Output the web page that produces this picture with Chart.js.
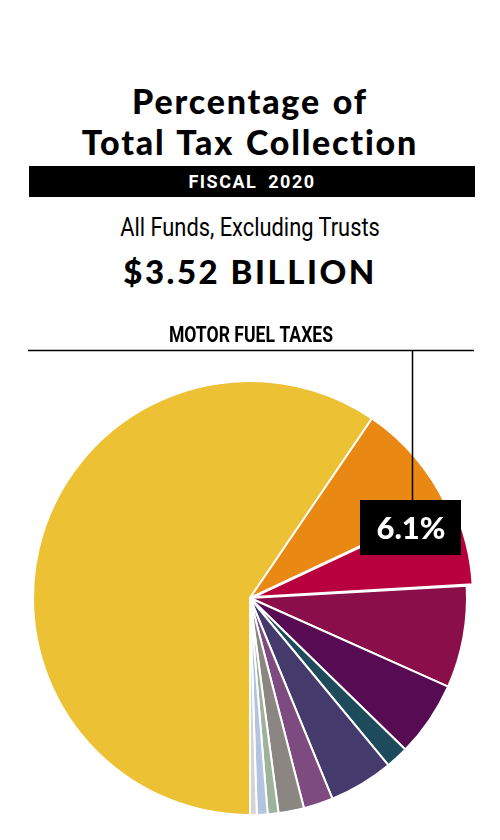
<!DOCTYPE html>
<html>
<head>
<meta charset="utf-8">
<script src="https://cdn.jsdelivr.net/npm/chart.js@4"></script>
<style>
  body { margin: 0; background: #fff; }
  #wrap { position: relative; width: 500px; height: 840px; overflow: hidden; }
  #myChart { position: absolute; left: 0; top: 0; }
  .t { position: absolute; left: 0; width: 500px; text-align: center; color: #000; white-space: nowrap; }
  #title { top: 80px; font: 900 34px/41px Lato, "DejaVu Sans", sans-serif; letter-spacing: 1.8px; word-spacing: 2px; }
  #bar { position: absolute; left: 29px; top: 166px; width: 446px; height: 31px; background: #000; color: #fff;
         font: bold 18px/31px Roboto, "DejaVu Sans", sans-serif; text-align: center; letter-spacing: 1.5px; word-spacing: 5px; }
  #sub { top: 212px; font: 26px/30px Roboto, "DejaVu Sans", sans-serif; transform: scaleX(0.84); }
  #total { top: 252px; font: 900 33px/38px Lato, "DejaVu Sans", sans-serif; letter-spacing: 2.5px; }
</style>
</head>
<body>
<div id="wrap">
  <div class="t" id="title">Percentage of<br>Total Tax Collection</div>
  <div id="bar">FISCAL 2020</div>
  <div class="t" id="sub">All Funds, Excluding Trusts</div>
  <div class="t" id="total">$3.52 BILLION</div>
  <canvas id="myChart" width="500" height="840"></canvas>
</div>
<script>
// slices clockwise, starting at the bottom of the pie
const categories = ['Largest source', 'Second source', 'Motor Fuel Taxes', 'Source 4', 'Source 5', 'Source 6',
    'Source 7', 'Source 8', 'Source 9', 'Source 10', 'Source 11', 'Source 12'];
const shares = [59.5, 8.5, 6.1, 7.6, 5.6, 1.7, 4.8, 2.2, 1.9, 0.8, 0.8, 0.5];
const sliceColors = ['#ECC134', '#E98812', '#B9003F', '#8A0E4A', '#560B52', '#1D4B5B',
    '#443B6C', '#7E4B80', '#8B8682', '#9DB39B', '#B3C4E1', '#D4D4D6'];
const highlight = 'Motor Fuel Taxes';
const highlightLabel = '6.1%';

const calloutPlugin = {
    id: 'callout',
    afterDatasetsDraw(chart) {
        const ctx = chart.ctx;
        ctx.save();
        // leader lines
        ctx.strokeStyle = '#000';
        ctx.lineWidth = 1.5;
        ctx.beginPath();
        ctx.moveTo(28, 350.5);
        ctx.lineTo(474, 350.5);
        ctx.moveTo(412.5, 350.5);
        ctx.lineTo(412.5, 500);
        ctx.stroke();
        // category name above the line, squeezed like a condensed face
        ctx.fillStyle = '#000';
        ctx.textAlign = 'center';
        ctx.textBaseline = 'alphabetic';
        ctx.save();
        ctx.translate(251, 342);
        ctx.scale(0.8, 1);
        ctx.font = 'bold 22px Roboto, "DejaVu Sans", sans-serif';
        ctx.fillText(highlight.toUpperCase(), 0, 0);
        ctx.restore();
        // value box
        ctx.fillStyle = '#000';
        ctx.fillRect(360, 500, 101, 55);
        ctx.fillStyle = '#fff';
        ctx.font = '900 31px Lato, "DejaVu Sans", sans-serif';
        ctx.fillText(highlightLabel, 411, 539);
        ctx.restore();
    }
};

const myChart = new Chart(document.getElementById('myChart'), {
    type: 'pie',
    data: {
        labels: categories,
        datasets: [{
            data: shares,
            backgroundColor: sliceColors,
            borderColor: '#fff',
            borderWidth: 2,
            offset: categories.map(c => c === highlight ? 15 : 0)
        }]
    },
    options: {
        responsive: false,
        animation: false,
        rotation: 180,
        radius: 217,
        layout: { padding: { top: 356 } },
        plugins: {
            legend: { display: false },
            tooltip: { enabled: false }
        }
    },
    plugins: [calloutPlugin]
});
</script>
</body>
</html>
